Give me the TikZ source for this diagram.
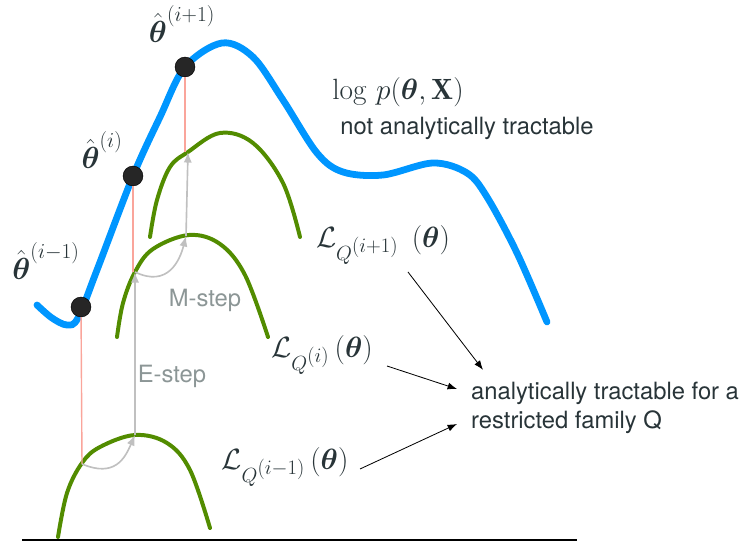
\RequirePackage{fix-cm}
\documentclass[tikz,border=0pt]{standalone}
\usepackage{amsmath}
\usepackage{amssymb}
\usepackage{fontspec}
\setsansfont{TeX Gyre Heros}
\usepackage{tikz}
\usetikzlibrary{arrows.meta,calc}
\definecolor{logblue}{RGB}{0,150,255}
\definecolor{boundgreen}{RGB}{82,140,0}
\definecolor{stepred}{RGB}{250,165,155}
\definecolor{stepgrey}{RGB}{192,192,192}
\definecolor{steptext}{RGB}{140,150,150}
\definecolor{inktext}{RGB}{40,52,56}

\begin{document}
\begin{tikzpicture}[x=0.03cm, y=-0.03cm,
    logcurve/.style={draw=logblue, line width=5.8pt, line cap=round},
    bound/.style={draw=boundgreen, line width=3.4pt, line cap=round},
    drop/.style={draw=stepred, line width=1.2pt},
    emstep/.style={draw=stepgrey, line width=1.4pt, -{Latex[length=9pt, width=7pt]}},
    estimate/.style={circle, draw=black, fill=black!85, minimum size=17pt, inner sep=0pt},
    mathlabel/.style={text=inktext, font=\fontsize{25}{30}\selectfont},
    thetalabel/.style={text=inktext, font=\fontsize{26}{30}\selectfont},
    plainlabel/.style={text=inktext, font=\sffamily\fontsize{20.3}{25}\selectfont},
    steplabel/.style={text=steptext, font=\sffamily\fontsize{20.3}{25}\selectfont}]
    \useasboundingbox (0,0) rectangle (742,541);

    % log likelihood
    \draw[logcurve] plot[smooth, tension=0.55] coordinates {(37,305) (52,318) (67,325) (78,318) (97,270) (133,176) (160,117) (185,67) (222,43) (253,57) (283,100) (317,153) (343,172) (383,175) (433,163) (467,173) (487,197) (517,253) (547,322)};

    % lower bounds
    \draw[bound] plot[smooth, tension=0.6] coordinates {(58,537) (67,493) (82,463) (100,447) (135,435) (167,443) (190,470) (210,528)};
    \draw[bound] plot[smooth, tension=0.6] coordinates {(117,337) (123,303) (135,272) (153,249) (189,235) (220,244) (245,275) (268,337)};
    \draw[bound] plot[smooth, tension=0.6] coordinates {(150,237) (157,200) (170,167) (188,152) (220,133) (253,143) (283,183) (300,237)};

    \coordinate (lowA) at (82,464);
    \coordinate (topA) at (135,435);
    \coordinate (lowB) at (135,272);
    \coordinate (topB) at (186,236);
    \coordinate (lowC) at (188,152);

    \node[estimate] (dotA) at (81,307) {};
    \node[estimate] (dotB) at (133,176) {};
    \node[estimate] (dotC) at (185,67) {};

    \draw[drop] (dotA) -- (lowA);
    \draw[drop] (dotB) -- (dotB |- lowB);
    \draw[drop] (dotC) -- (dotC |- lowC);

    \draw[emstep] (lowA) .. controls (115,478) and (125,458) .. (topA);
    \draw[emstep] (topA) -- (lowB);
    \draw[emstep] (lowB) .. controls (168,288) and (180,260) .. (topB);
    \draw[emstep] (topB) -- (lowC);

    \node[steplabel] (mstep) at (205,300) {M-step};
    \node[steplabel] (estep) at (172,376) {E-step};

    \node[thetalabel] (thA) at (46,261) {$\hat{\boldsymbol\theta}^{(i-1)}$};
    \node[thetalabel] (thB) at (102,150) {$\hat{\boldsymbol\theta}^{(i)}$};
    \node[thetalabel] (thC) at (182,24) {$\hat{\boldsymbol\theta}^{(i+1)}$};

    \node[mathlabel] (logp) at (398,92) {$\log\, p(\boldsymbol\theta, \mathbf{X})$};
    \node[plainlabel] (hard) at (467,128) {not analytically tractable};

    \node[mathlabel] (LC) at (383,245) {$\mathcal{L}_{Q^{\scriptstyle(i+1)}}\;\,(\boldsymbol\theta)$};
    \node[mathlabel] (LB) at (322,355) {$\mathcal{L}_{Q^{\scriptstyle(i)}}\,(\boldsymbol\theta)$};
    \node[mathlabel] (LA) at (285,467) {$\mathcal{L}_{Q^{\scriptstyle(i-1)}}\,(\boldsymbol\theta)$};

    \node[plainlabel, anchor=west, align=left, inner sep=0pt] (easy) at (471,408) {analytically tractable for a\\restricted family Q};

    \draw[-{Latex[length=8pt, width=6pt]}, line width=0.7pt] ($(LC)+(25,27)$) -- ($(easy.north west)+(12,-12)$);
    \draw[-{Latex[length=8pt, width=6pt]}, line width=0.7pt] ($(LB)+(65,11)$) -- ($(easy.west)+(-14,-19)$);
    \draw[-{Latex[length=8pt, width=6pt]}, line width=0.7pt] ($(LA)+(75,2)$) -- ($(easy.west)+(-14,16)$);

    \coordinate (axisL) at (22,540);
    \coordinate (axisR) at (577,540);
    \draw[line width=2.5pt] (axisL) -- (axisR);
\end{tikzpicture}
\end{document}
